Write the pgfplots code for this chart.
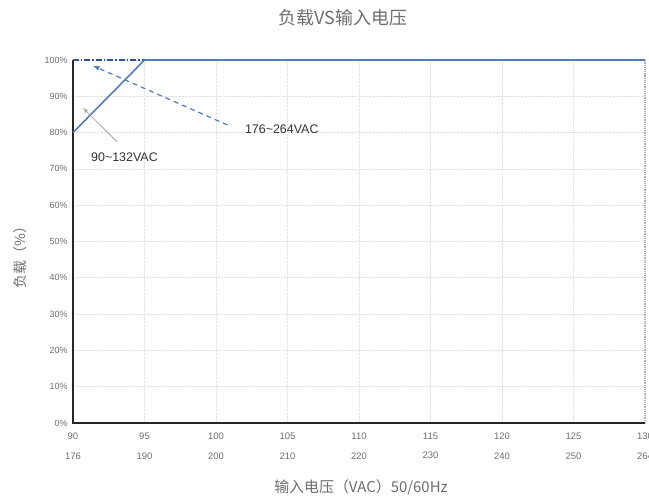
\documentclass[border=0pt]{standalone}
\usepackage{fontspec}
\setmainfont{Liberation Sans}
\newfontfamily\cjk{Noto Sans CJK SC}
\usepackage{pgfplots}
\pgfplotsset{compat=1.18}
\definecolor{lineblue}{RGB}{84,122,184}
\definecolor{darkblue}{RGB}{46,84,150}
\definecolor{txtgray}{RGB}{110,110,110}
\definecolor{gridgray}{RGB}{225,225,225}
\begin{document}
\begin{tikzpicture}
\begin{axis}[
  at={(73bp,76bp)}, anchor=south west,
  scale only axis, width=572bp, height=363bp,
  xmin=90, xmax=130, ymin=0, ymax=100,
  xtick={90,95,100,105,110,115,120,125,130},
  xticklabels={{90\\176},{95\\190},{100\\200},{105\\210},{110\\220},{115\\230},{120\\240},{125\\250},{130\\264}},
  ytick={0,10,...,100},
  yticklabels={0\%,10\%,20\%,30\%,40\%,50\%,60\%,70\%,80\%,90\%,100\%},
  xticklabel style={font=\fontsize{9.5}{20}\selectfont, align=center, text=txtgray, yshift=-6bp},
  yticklabel style={font=\fontsize{9}{10}\selectfont, text=txtgray, xshift=-2bp},
  major tick length=0pt,
  grid=major,
  major grid style={gridgray, densely dotted, line width=0.6pt},
  axis line style={draw=none},
  clip=false,
]
\draw[gray!60, densely dotted, line width=1.2pt] (axis cs:130,0) -- (axis cs:130,100);
\draw[black!85, line width=1.6pt] (axis cs:90,100) -- (axis cs:90,0) -- (axis cs:130,0);
\addplot[darkblue, line width=1.6pt, dash pattern=on 6pt off 2pt on 1.5pt off 2pt, forget plot] coordinates {(90,100) (130,100)};
\addplot[lineblue, line width=1.6pt, forget plot] coordinates {(90,80) (95,100) (130,100)};
\draw[gray!70, line width=0.8pt, -{latex}] (axis cs:93.1,77.4) -- (axis cs:90.7,86.8);
\draw[lineblue, line width=1.2pt, dash pattern=on 5pt off 4pt, -{latex}] (axis cs:100.8,82.1) -- (axis cs:91.4,98.4);
\node[font=\fontsize{12.5}{14}\selectfont, text=black!80] at (axis cs:104.6,81.0) {176\char`~264VAC};
\node[font=\fontsize{12.5}{14}\selectfont, text=black!80] at (axis cs:93.6,73.3) {90\char`~132VAC};
\end{axis}
\node[font=\cjk\fontsize{18}{20}\selectfont, text=txtgray] at (343bp,481bp) {负载VS输入电压};
\node[font=\cjk\fontsize{15}{18}\selectfont, text=txtgray] at (361bp,12bp) {输入电压（VAC）50/60Hz};
\node[font=\cjk\fontsize{14}{16}\selectfont, text=txtgray, rotate=90] at (20bp,245bp) {负载（\%）};
\pgfresetboundingbox
\useasboundingbox (0,0) rectangle (649bp,499bp);
\end{tikzpicture}
\end{document}
